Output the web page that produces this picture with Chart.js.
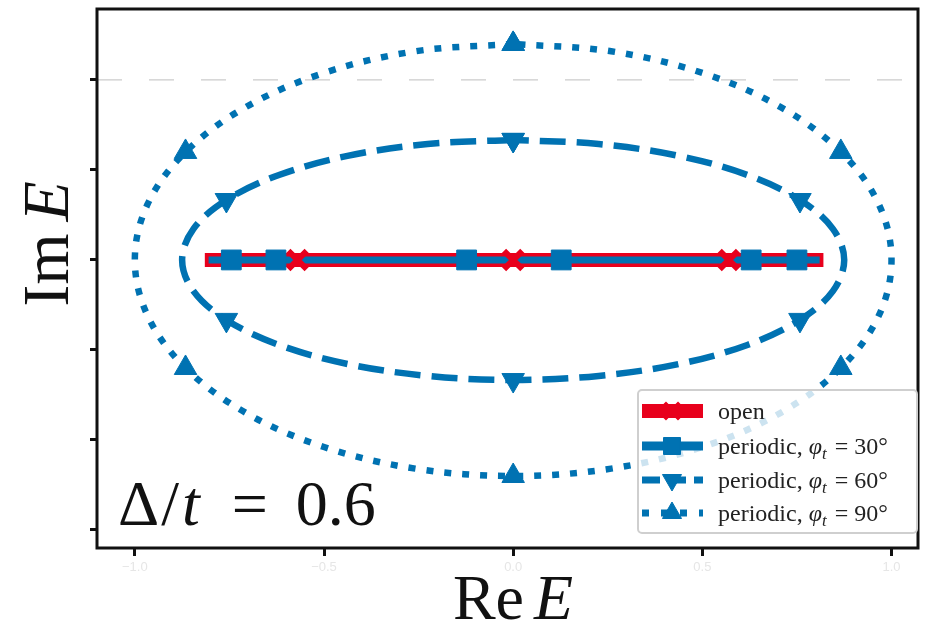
<!DOCTYPE html>
<html>
<head>
<meta charset="utf-8">
<script src="https://cdn.jsdelivr.net/npm/chart.js@4.4.1/dist/chart.umd.min.js"></script>
<style>
  html, body { margin: 0; padding: 0; background: #fff; }
  canvas { display: block; }
</style>
</head>
<body>
<canvas id="chart" width="948" height="625"></canvas>
<script>
// axis ticks
const xTicks = [-1, -0.5, 0, 0.5, 1];
const xTickLabels = ['\u22121.0', '\u22120.5', '0.0', '0.5', '1.0'];
const yTicks = [1, 0.5, 0, -0.5, -1, -1.5];

// open chain: spectrum lies on the real axis
const openLineX = [-0.815, 0.82];
const openLineY = [0, 0];
const openMarkX = [-0.57, 0, 0.57];
const openMarkY = [0, 0, 0];

// periodic, phi_t = 30 deg (collapsed onto the real axis)
const p30X = [-0.805, -0.745, -0.627, -0.123, 0.127, 0.629, 0.75, 0.81];
const p30Y = [0, 0, 0, 0, 0, 0, 0, 0];

// periodic, phi_t = 60 deg (loop starts and ends at the top)
const p60X = [0, -0.226, -0.438, -0.619, -0.758, -0.845, -0.875, -0.845, -0.758, -0.619, -0.438, -0.226, 0,
              0.226, 0.438, 0.619, 0.758, 0.845, 0.875, 0.845, 0.758, 0.619, 0.438, 0.226, 0];
const p60Y = [0.667, 0.644, 0.578, 0.472, 0.333, 0.173, 0, -0.173, -0.333, -0.472, -0.578, -0.644, -0.667,
              -0.644, -0.578, -0.472, -0.333, -0.173, 0, 0.173, 0.333, 0.472, 0.578, 0.644, 0.667];

// periodic, phi_t = 90 deg
const p90X = [0, -0.259, -0.5, -0.707, -0.866, -0.966, -1, -0.966, -0.866, -0.707, -0.5, -0.259, 0,
              0.259, 0.5, 0.707, 0.866, 0.966, 1, 0.966, 0.866, 0.707, 0.5, 0.259, 0];
const p90Y = [1.2, 1.159, 1.039, 0.849, 0.6, 0.311, 0, -0.311, -0.6, -0.849, -1.039, -1.159, -1.2,
              -1.159, -1.039, -0.849, -0.6, -0.311, 0, 0.311, 0.6, 0.849, 1.039, 1.159, 1.2];

// faint dashed reference line
const refLineX = [-1.1, 1.07];
const refLineY = [1, 1];

const RED = '#e8001c';
const BLUE = '#0072b2';
const SERIF = '"Liberation Serif", "Times New Roman", serif';

const pts = (xs, ys) => xs.map((x, i) => ({ x: x, y: ys[i] }));

function drawRich(ctx, parts, x, y, size, align) {
    const fontFor = p => (p.i ? 'italic ' : '') + Math.round(size * (p.sub ? 0.7 : 1)) + 'px ' + SERIF;
    let total = 0;
    const widths = parts.map(p => {
        ctx.font = fontFor(p);
        const w = ctx.measureText(p.t).width + (p.gap || 0);
        total += w;
        return w;
    });
    let cx = align === 'center' ? x - total / 2 : x;
    ctx.textAlign = 'left';
    ctx.textBaseline = 'alphabetic';
    parts.forEach((p, i) => {
        ctx.font = fontFor(p);
        ctx.fillText(p.t, cx, y + (p.sub ? size * 0.22 : 0));
        cx += widths[i];
    });
}

// no extra padding from the axes, so the frame sits where padding puts it
function fixScale(s, size) {
    if (s.isHorizontal()) s.height = size; else s.width = size;
    s.paddingTop = 0; s.paddingBottom = 0; s.paddingLeft = 0; s.paddingRight = 0;
}

const framePlugin = {
    id: 'frame',
    afterDatasetsDraw(chart) {
        const a = chart.chartArea, ctx = chart.ctx;
        ctx.save();
        ctx.lineWidth = 3;
        ctx.strokeStyle = '#111';
        ctx.strokeRect(a.left, a.top, a.right - a.left, a.bottom - a.top);
        ctx.restore();
    }
};

const textPlugin = {
    id: 'labels',
    afterDraw(chart) {
        const ctx = chart.ctx;
        ctx.save();
        ctx.fillStyle = '#111';
        drawRich(ctx, [{ t: 'Re', gap: 10 }, { t: 'E', i: true }], 513, 619, 64, 'center');
        drawRich(ctx, [{ t: '\u0394', gap: 2 }, { t: '/', gap: 3 }, { t: 't', i: true, gap: 32 },
                       { t: '=', gap: 28 }, { t: '0.6' }], 118, 525, 64, 'left');
        ctx.translate(68, 244);
        ctx.rotate(-Math.PI / 2);
        drawRich(ctx, [{ t: 'Im', gap: 12 }, { t: 'E', i: true }], 0, 0, 66, 'center');
        ctx.restore();
    }
};

const legendRows = [
    { label: [{ t: 'open' }], color: RED, width: 14, dash: [], style: 'crossRot', r: 11, bw: 5, rot: 0 },
    { label: [{ t: 'periodic, ' }, { t: '\u03c6', i: true }, { t: 't', i: true, sub: true, gap: 8 }, { t: '= 30\u00b0' }],
      color: BLUE, width: 9, dash: [], style: 'rect', r: 12, bw: 1, rot: 0 },
    { label: [{ t: 'periodic, ' }, { t: '\u03c6', i: true }, { t: 't', i: true, sub: true, gap: 8 }, { t: '= 60\u00b0' }],
      color: BLUE, width: 7, dash: [18, 8], style: 'triangle', r: 11, bw: 1, rot: 180 },
    { label: [{ t: 'periodic, ' }, { t: '\u03c6', i: true }, { t: 't', i: true, sub: true, gap: 8 }, { t: '= 90\u00b0' }],
      color: BLUE, width: 7, dash: [7, 12], style: 'triangle', r: 11, bw: 1, rot: 0 }
];
const legendRowY = [411, 446, 480, 513];

const legendPlugin = {
    id: 'customLegend',
    afterDraw(chart) {
        const ctx = chart.ctx;
        ctx.save();
        ctx.beginPath();
        ctx.roundRect(638, 390, 279, 143, 4);
        ctx.fillStyle = 'rgba(255,255,255,0.8)';
        ctx.fill();
        ctx.lineWidth = 2;
        ctx.strokeStyle = '#cfcfcf';
        ctx.stroke();
        legendRows.forEach((row, i) => {
            const y = legendRowY[i];
            ctx.save();
            ctx.beginPath();
            ctx.setLineDash(row.dash);
            ctx.lineCap = 'butt';
            ctx.lineWidth = row.width;
            ctx.strokeStyle = row.color;
            ctx.moveTo(642, y);
            ctx.lineTo(703, y);
            ctx.stroke();
            ctx.setLineDash([]);
            ctx.lineWidth = row.bw;
            ctx.fillStyle = row.color;
            ctx.strokeStyle = row.color;
            Chart.helpers.drawPoint(ctx, {
                pointStyle: row.style, radius: row.r, rotation: row.rot, borderWidth: row.bw
            }, 672, y);
            ctx.restore();
            ctx.fillStyle = '#222';
            drawRich(ctx, row.label, 718, y + 8, 24, 'left');
        });
        ctx.restore();
    }
};

const markEvery4 = c => (c.dataIndex % 4 === 0 ? 13 : 0);

new Chart(document.getElementById('chart'), {
    type: 'scatter',
    data: {
        datasets: [
            {
                data: pts(refLineX, refLineY), showLine: true, order: 10,
                borderColor: '#cccccc', borderWidth: 1.2, borderDash: [25, 27], pointRadius: 0
            },
            {
                data: pts(p90X, p90Y), showLine: true, order: 6, tension: 0.35,
                borderColor: BLUE, borderWidth: 6.5, borderDash: [7, 11], borderCapStyle: 'butt',
                pointStyle: 'triangle', pointRadius: markEvery4, pointBackgroundColor: BLUE,
                pointBorderColor: BLUE, pointBorderWidth: 1
            },
            {
                data: pts(p60X, p60Y), showLine: true, order: 5, tension: 0.35,
                borderColor: BLUE, borderWidth: 6.5, borderDash: [26, 11], borderCapStyle: 'butt',
                pointStyle: 'triangle', pointRotation: 180, pointRadius: markEvery4,
                pointBackgroundColor: BLUE, pointBorderColor: BLUE, pointBorderWidth: 1
            },
            {
                data: pts(openLineX, openLineY), showLine: true, order: 4,
                borderColor: RED, borderWidth: 14, borderCapStyle: 'butt', pointRadius: 0
            },
            {
                data: pts(p30X, p30Y), showLine: true, order: 3,
                borderColor: BLUE, borderWidth: 7, borderCapStyle: 'butt',
                pointStyle: 'rect',
                pointRadius: c => (c.dataIndex === 0 || c.dataIndex === p30X.length - 1 ? 0 : 14),
                pointBackgroundColor: BLUE, pointBorderColor: BLUE, pointBorderWidth: 1
            },
            {
                data: pts(openMarkX, openMarkY), showLine: false, order: 2,
                pointStyle: 'crossRot', pointRadius: 13, pointBorderWidth: 6,
                pointBorderColor: RED, pointBackgroundColor: RED
            }
        ]
    },
    options: {
        responsive: false,
        animation: false,
        events: [],
        layout: { autoPadding: false, padding: { left: 90, top: 9, right: 30, bottom: 0 } },
        plugins: { legend: { display: false }, tooltip: { enabled: false } },
        scales: {
            x: {
                type: 'linear', min: -1.1, max: 1.07,
                afterBuildTicks: s => { s.ticks = xTicks.map(v => ({ value: v })); },
                afterFit: s => fixScale(s, 77),
                ticks: {
                    callback: (v, i) => xTickLabels[i],
                    color: '#e6e6e6', font: { size: 13 }, padding: 4, maxRotation: 0
                },
                grid: { drawOnChartArea: false, drawTicks: true, tickLength: 8, tickWidth: 3, tickColor: '#111' },
                border: { display: false }
            },
            y: {
                type: 'linear', min: -1.6, max: 1.394,
                afterBuildTicks: s => { s.ticks = yTicks.map(v => ({ value: v })); },
                afterFit: s => fixScale(s, 7),
                ticks: { display: false },
                grid: { drawOnChartArea: false, drawTicks: true, tickLength: 7, tickWidth: 3, tickColor: '#111' },
                border: { display: false }
            }
        }
    },
    plugins: [framePlugin, textPlugin, legendPlugin]
});
</script>
</body>
</html>
